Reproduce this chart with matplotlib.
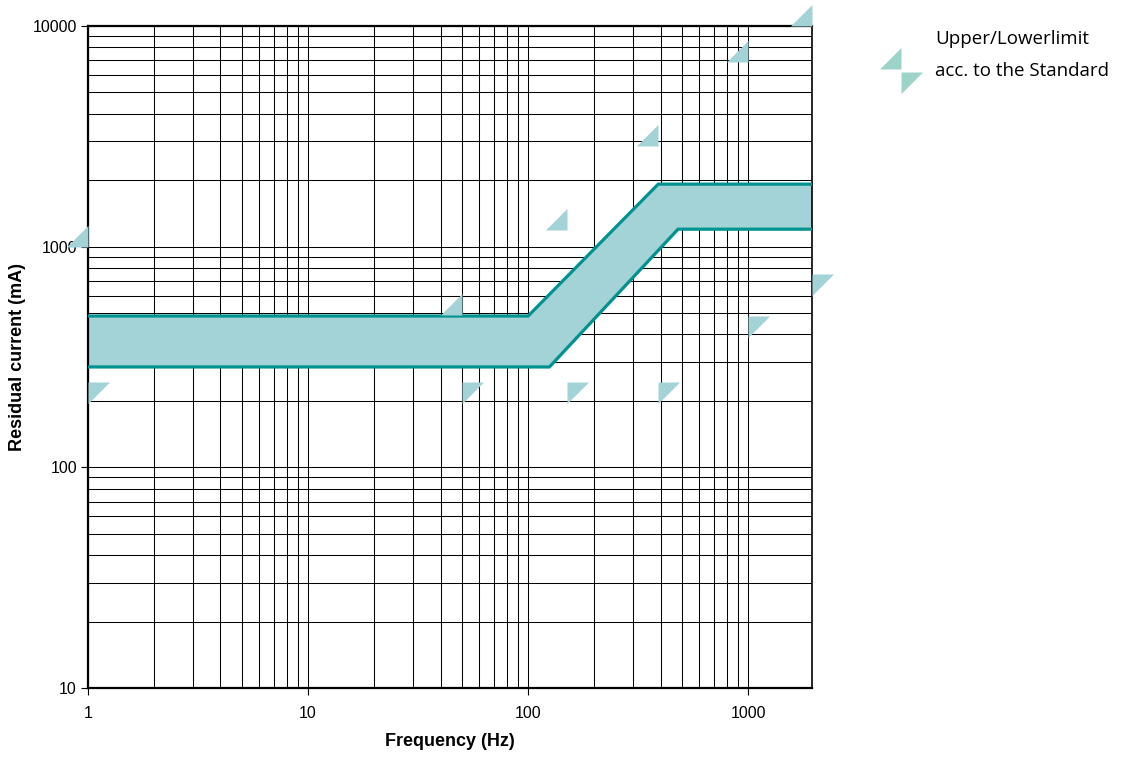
import matplotlib
matplotlib.use("Agg")
import matplotlib.pyplot as plt
from matplotlib.path import Path
from matplotlib.ticker import LogLocator, FixedLocator, FixedFormatter, NullFormatter

# Tripping band of the device (frequency in Hz, current in mA)
upper_freq = [1, 100, 390, 1950]
upper_curr = [485, 485, 1920, 1920]
lower_freq = [1, 125, 480, 1950]
lower_curr = [285, 285, 1200, 1200]

# Limits according to the standard
limit_freq = [1, 50, 150, 390, 1000, 1950]
limit_upper = [1000, 490, 1190, 2860, 6900, 10000]
limit_lower = [244, 244, 244, 244, 485, 750]

x_ticks = [1, 10, 100, 1000]
x_labels = ["1", "10", "100", "1000"]
y_ticks = [10, 100, 1000, 10000]
y_labels = ["10", "100", "1000", "10000"]

LINE = "#00928f"
FILL = "#a3d2d7"
MARK = "#a3d2d7"
LEG_MARK = "#9dd4ca"

# right-angled triangle markers anchored at their right-angle corner
up_marker = Path([(0, 0), (-1, 0), (0, 1), (0, 0)],
                 [Path.MOVETO, Path.LINETO, Path.LINETO, Path.CLOSEPOLY])
low_marker = Path([(0, 0), (1, 0), (0, -1), (0, 0)],
                  [Path.MOVETO, Path.LINETO, Path.LINETO, Path.CLOSEPOLY])

W, H = 1128, 758
L, R, T, B = 88, 812, 26, 688

fig = plt.figure(figsize=(W / 100, H / 100), dpi=100)
ax = fig.add_axes([L / W, 1 - B / H, (R - L) / W, (B - T) / H])
ax.set_xscale("log")
ax.set_yscale("log")
ax.set_xlim(1, 1950)
ax.set_ylim(10, 10000)

ax.xaxis.set_major_locator(FixedLocator(x_ticks))
ax.xaxis.set_major_formatter(FixedFormatter(x_labels))
ax.yaxis.set_major_locator(FixedLocator(y_ticks))
ax.yaxis.set_major_formatter(FixedFormatter(y_labels))
ax.xaxis.set_minor_locator(LogLocator(base=10, subs=range(2, 10), numticks=20))
ax.yaxis.set_minor_locator(LogLocator(base=10, subs=range(2, 10), numticks=20))
ax.xaxis.set_minor_formatter(NullFormatter())
ax.yaxis.set_minor_formatter(NullFormatter())

ax.grid(which="both", color="black", linewidth=0.75, zorder=0)
ax.set_axisbelow(True)
ax.tick_params(which="minor", length=0)
ax.tick_params(which="major", direction="out", length=5, width=0.8,
               labelsize=11.5, colors="black")
ax.tick_params(axis="x", pad=8)
ax.tick_params(axis="y", pad=3)
for lbl in ax.get_xticklabels() + ax.get_yticklabels():
    lbl.set_family("Liberation Sans")

for side in ["left", "bottom", "top"]:
    ax.spines[side].set_linewidth(1.6)
ax.spines["right"].set_linewidth(1.2)

# tripping band
ax.fill(upper_freq + lower_freq[::-1], upper_curr + lower_curr[::-1],
        color=FILL, linewidth=0, zorder=2)
ax.plot(upper_freq, upper_curr, color=LINE, linewidth=2.3, zorder=3,
        solid_joinstyle="miter")
ax.plot(lower_freq, lower_curr, color=LINE, linewidth=2.3, zorder=3,
        solid_joinstyle="miter")

# limit markers
ms = 31
ax.plot(limit_freq, limit_upper, linestyle="none", marker=up_marker,
        markersize=ms, color=MARK, markeredgewidth=0, clip_on=False, zorder=5)
ax.plot(limit_freq, limit_lower, linestyle="none", marker=low_marker,
        markersize=ms, color=MARK, markeredgewidth=0, clip_on=False, zorder=5)

ax.set_xlabel("Frequency (Hz)", fontsize=13, fontweight="bold",
              family="Liberation Sans")
ax.set_ylabel("Residual current (mA)", fontsize=13, fontweight="bold",
              family="Liberation Sans")
ax.xaxis.set_label_coords(0.5, -(733 - B) / (B - T))
ax.yaxis.set_label_coords(-(L - 26) / (R - L), 0.5)

# legend
fig.lines.append(plt.Line2D([901 / W], [1 - 69 / H], transform=fig.transFigure,
                            linestyle="none", marker=up_marker, markersize=ms,
                            color=LEG_MARK, markeredgewidth=0))
fig.lines.append(plt.Line2D([901 / W], [1 - 72 / H], transform=fig.transFigure,
                            linestyle="none", marker=low_marker, markersize=ms,
                            color=LEG_MARK, markeredgewidth=0))
fig.text(935 / W, 1 - 39 / H, "Upper/Lowerlimit", fontsize=13.5,
         family="Open Sans", va="center", ha="left", color="black")
fig.text(935 / W, 1 - 71 / H, "acc. to the Standard", fontsize=13.5,
         family="Open Sans", va="center", ha="left", color="black")

fig.savefig("out.png", dpi=100)
